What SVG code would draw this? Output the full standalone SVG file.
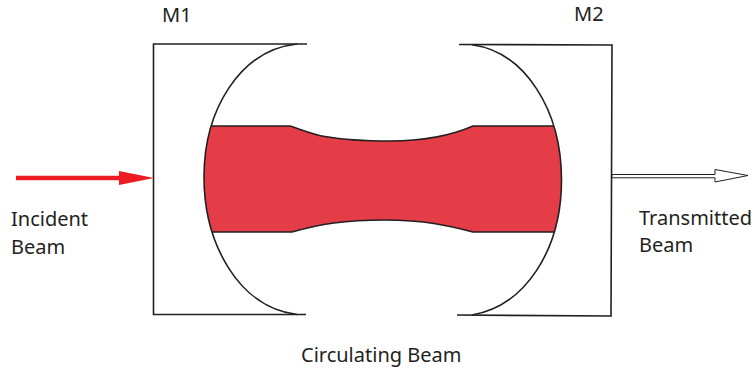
<svg xmlns="http://www.w3.org/2000/svg" width="756" height="370" viewBox="0 0 756 370">
<style>
.l{fill:none;stroke:#231f20;stroke-width:1.6}
.t{font-family:"Noto Sans","Open Sans",sans-serif;font-size:20px;fill:#231f20}
</style>
<defs>
<clipPath id="cav"><path d="M297 44C240 50 204 110 204 177C204 245 240 308 297 314.500H472C525 306 561.500 250 561.500 180C561.500 110 525 52 472 44.700Z"/></clipPath>
</defs>
<rect width="756" height="370" fill="#fff"/>
<g id="beam" clip-path="url(#cav)"><path d="M195 126H290C305 131 315 135 325 136.500C345 140 365 141 390 141C425 141 450 136 473 126H570V232H473C450 226 425 220 385 220C345 220 320 224 292 232H195Z" fill="#e43d47" stroke="#231f20" stroke-width="1.5"/></g>
<g id="M1">
<path class="l" d="M307 44H153.500V314.500H306"/>
<path class="l" d="M297 44C240 50 204 110 204 177C204 245 240 308 297 314.500"/>
<text class="t" x="162" y="22">M1</text>
</g>
<g id="M2">
<path class="l" d="M459 44.500L612 45L611 316L457 315"/>
<path class="l" d="M472 44.700C525 52 561.500 110 561.500 180C561.500 250 525 306 472 315"/>
<text class="t" x="574" y="21">M2</text>
</g>
<g id="connectors">
<path d="M16 175.800H119V171L154 178L119 185V180.200H16Z" fill="#ed1c24"/>
<path d="M612 174.500H715V169.500L748 175.500L715 182V177.800H612Z" fill="#fff" stroke="#231f20" stroke-width="1"/>
</g>
<g id="incident"><text class="t" x="11" y="226">Incident</text><text class="t" x="11" y="254">Beam</text></g>
<g id="transmitted"><text class="t" x="639" y="225">Transmitted</text><text class="t" x="639" y="252">Beam</text></g>
<g id="circulating"><text class="t" x="301" y="362">Circulating Beam</text></g>
</svg>
